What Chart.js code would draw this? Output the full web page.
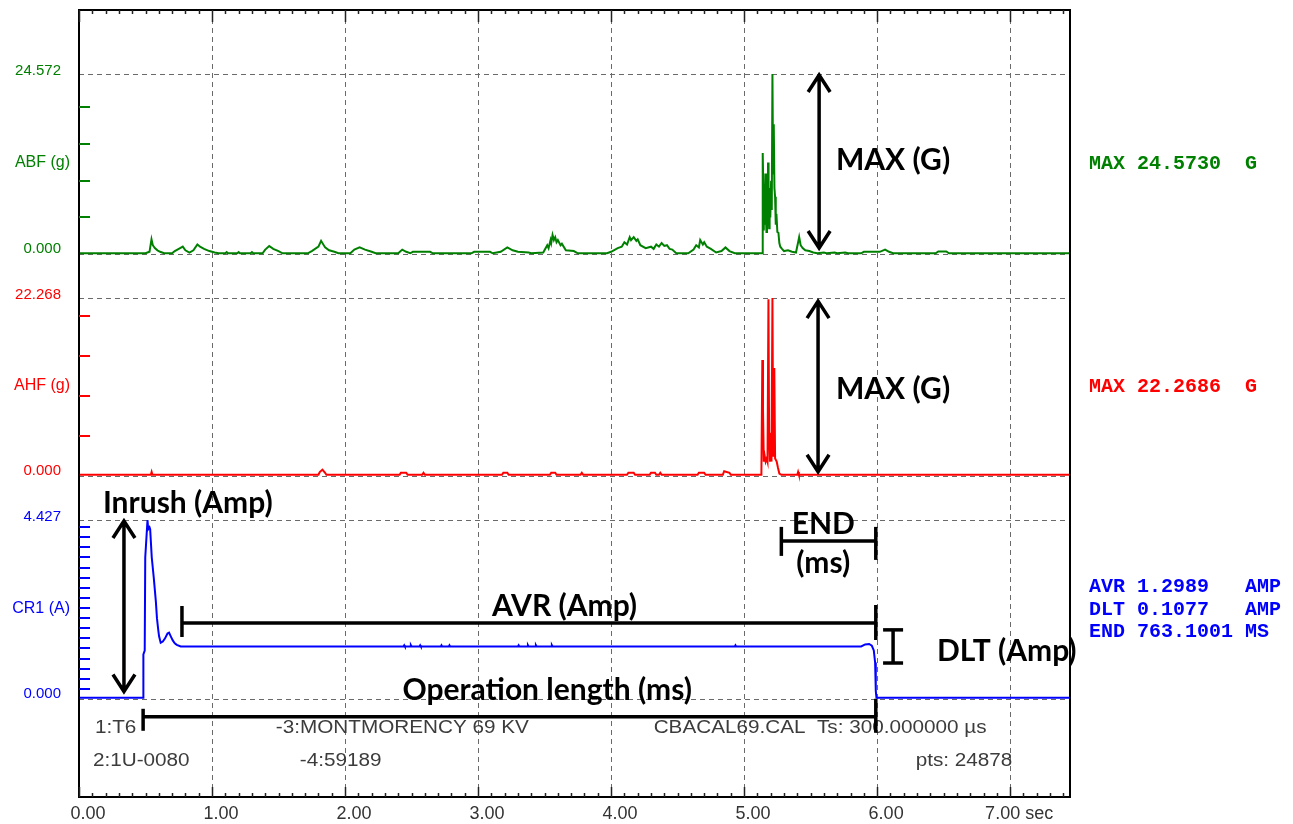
<!DOCTYPE html>
<html>
<head>
<meta charset="utf-8">
<title>Breaker timing record</title>
<script src="https://cdn.jsdelivr.net/npm/chart.js@4.4.1/dist/chart.umd.min.js"></script>
<style>
  html, body { margin: 0; padding: 0; background: #fff; }
  #wrap { width: 1293px; height: 824px; }
</style>
</head>
<body>
<div id="wrap"><canvas id="trace" width="1293" height="824"></canvas></div>
<script>
// ---- channel traces: [time (s), value] ----
const abfTrace = [
  [0, 0.1], [0.50, 0.1], [0.53, 0.3], [0.545, 2.0], [0.555, 1.2], [0.57, 0.8], [0.59, 0.5], [0.61, 0.3],
  [0.64, 0.1], [0.70, 0.1], [0.72, 0.4], [0.75, 0.7], [0.78, 1.0], [0.80, 0.5], [0.83, 0.2], [0.86, 0.5],
  [0.89, 1.3], [0.91, 1.0], [0.94, 0.7], [0.98, 0.4], [1.02, 0.2], [1.05, 0.1], [1.10, 0.1], [1.11, 0.25],
  [1.12, 0.1], [1.19, 0.1], [1.20, 0.25], [1.21, 0.1], [1.29, 0.1], [1.30, 0.25], [1.31, 0.1], [1.38, 0.1],
  [1.40, 0.6], [1.43, 1.1], [1.46, 0.7], [1.50, 0.4], [1.53, 0.1], [1.72, 0.1], [1.75, 0.4], [1.80, 1.0],
  [1.82, 1.8], [1.85, 0.9], [1.88, 0.5], [1.92, 0.3], [1.95, 0.1], [2.04, 0.1], [2.07, 0.6], [2.11, 0.9],
  [2.15, 0.6], [2.20, 0.3], [2.23, 0.1], [2.40, 0.1], [2.43, 0.6], [2.46, 0.3], [2.49, 0.1], [2.51, 0.3],
  [2.64, 0.3], [2.66, 0.1], [2.95, 0.1], [2.97, 0.3], [3.09, 0.3], [3.11, 0.1], [3.17, 0.3], [3.22, 0.9],
  [3.26, 0.5], [3.30, 0.3], [3.38, 0.2], [3.40, 0.1], [3.49, 0.2], [3.52, 1.2], [3.53, 0.8], [3.545, 1.9],
  [3.55, 1.5], [3.56, 2.6], [3.57, 1.9], [3.58, 2.3], [3.59, 1.6], [3.60, 1.9], [3.62, 1.2], [3.63, 1.4],
  [3.66, 0.5], [3.72, 0.4], [3.75, 0.1], [3.97, 0.1], [4.00, 0.3], [4.05, 0.8], [4.08, 1.0], [4.10, 1.6],
  [4.12, 1.3], [4.14, 2.3], [4.15, 1.9], [4.17, 2.3], [4.19, 1.8], [4.20, 2.0], [4.22, 1.2], [4.26, 0.8],
  [4.30, 1.0], [4.32, 0.7], [4.34, 1.3], [4.36, 1.0], [4.38, 1.5], [4.40, 1.1], [4.42, 1.2], [4.44, 0.7],
  [4.46, 0.6], [4.49, 0.1], [4.58, 0.1], [4.62, 0.6], [4.64, 1.2], [4.66, 0.9], [4.67, 1.9], [4.69, 1.3],
  [4.70, 1.6], [4.72, 1.0], [4.75, 0.7], [4.79, 0.2], [4.83, 0.4], [4.86, 0.9], [4.89, 0.4], [4.93, 0.1],
  [5.135, 0.1],
  [5.140, 13.8], [5.145, 8.3], [5.148, 3.2], [5.152, 9.5], [5.156, 4.0], [5.160, 11.0], [5.164, 5.2],
  [5.168, 3.0], [5.172, 8.0], [5.176, 4.5], [5.180, 12.5], [5.184, 6.0], [5.188, 3.5], [5.192, 9.0],
  [5.197, 5.0], [5.203, 10.0], [5.208, 6.0], [5.213, 24.573], [5.218, 11.0], [5.223, 17.7], [5.228, 9.0],
  [5.233, 7.8], [5.238, 4.0], [5.243, 5.5], [5.250, 3.0], [5.258, 2.9], [5.265, 1.5], [5.272, 1.0],
  [5.285, 0.7], [5.30, 0.4], [5.33, 0.5], [5.36, 0.3], [5.39, 0.2], [5.405, 1.5], [5.414, 2.3], [5.425, 1.2],
  [5.44, 0.8], [5.46, 0.5], [5.49, 0.4], [5.52, 0.2], [5.55, 0.1], [5.60, 0.2], [5.62, 0.1], [5.68, 0.2],
  [5.70, 0.1], [5.76, 0.2], [5.78, 0.1], [5.88, 0.1], [5.90, 0.3], [6.02, 0.3], [6.06, 0.6], [6.09, 0.3],
  [6.12, 0.1], [6.44, 0.1], [6.46, 0.35], [6.52, 0.35], [6.54, 0.1], [7.45, 0.1]
];

const ahfTrace = [
  [0, 0.15], [0.54, 0.15], [0.546, 0.5], [0.552, 0.15], [1.80, 0.15], [1.81, 0.5], [1.83, 0.8], [1.85, 0.4],
  [1.86, 0.15], [2.41, 0.15], [2.42, 0.4], [2.46, 0.4], [2.47, 0.15], [2.58, 0.15], [2.59, 0.4], [2.60, 0.15],
  [3.18, 0.15], [3.19, 0.4], [3.22, 0.4], [3.23, 0.15], [3.54, 0.15], [3.55, 0.4], [3.58, 0.4], [3.59, 0.15],
  [3.77, 0.15], [3.78, 0.4], [3.79, 0.15], [4.12, 0.15], [4.13, 0.4], [4.17, 0.4], [4.18, 0.15], [4.29, 0.15],
  [4.30, 0.4], [4.33, 0.4], [4.34, 0.15], [4.36, 0.15], [4.37, 0.4], [4.38, 0.15], [4.65, 0.15], [4.66, 0.4],
  [4.70, 0.4], [4.71, 0.15], [4.84, 0.15], [4.85, 0.6], [4.89, 0.4], [4.90, 0.15], [5.130, 0.15],
  [5.137, 14.5], [5.142, 8.3], [5.148, 1.8], [5.155, 2.5], [5.162, 1.8], [5.170, 2.2], [5.176, 1.8],
  [5.183, 22.1], [5.188, 5.4], [5.194, 1.8], [5.200, 2.5], [5.206, 1.8], [5.213, 22.27], [5.219, 2.4],
  [5.227, 13.5], [5.233, 2.2], [5.245, 1.8], [5.255, 1.0], [5.265, 0.3], [5.28, 0.15], [5.40, 0.15],
  [5.406, 0.5], [5.412, 0.15], [7.45, 0.15]
];

const cr1Trace = [
  [0, 0.03], [0.482, 0.03], [0.484, 1.1], [0.494, 1.2], [0.498, 3.5], [0.515, 4.427], [0.520, 4.2],
  [0.530, 4.25], [0.535, 4.2], [0.547, 3.5], [0.562, 3.0], [0.578, 2.4], [0.586, 2.0], [0.596, 1.7],
  [0.602, 1.55], [0.614, 1.39], [0.630, 1.42], [0.647, 1.5], [0.665, 1.62], [0.677, 1.64], [0.690, 1.55],
  [0.705, 1.45], [0.720, 1.38], [0.735, 1.34], [0.765, 1.30], [2.44, 1.30], [2.445, 1.33], [2.45, 1.30],
  [2.49, 1.30], [2.495, 1.33], [2.50, 1.30], [2.56, 1.30], [2.565, 1.33], [2.57, 1.30], [2.72, 1.30],
  [2.725, 1.33], [2.73, 1.30], [2.78, 1.30], [2.785, 1.33], [2.79, 1.30], [3.30, 1.30], [3.305, 1.33],
  [3.31, 1.30], [3.37, 1.30], [3.375, 1.33], [3.38, 1.30], [3.43, 1.30], [3.435, 1.33], [3.44, 1.30],
  [3.55, 1.30], [3.555, 1.33], [3.56, 1.30], [4.93, 1.30], [4.935, 1.33], [4.94, 1.30], [5.88, 1.30],
  [5.91, 1.35], [5.94, 1.36], [5.96, 1.32], [5.975, 1.2], [5.985, 0.9], [5.99, 0.2], [5.995, 0.03], [7.45, 0.03]
];

// ---- panels ----
const panelAxes = ['yAbf', 'yAhf', 'yCr1'];
const panelNames = ['ABF (g)', 'AHF (g)', 'CR1 (A)'];
const panelTops = [24.572, 22.268, 4.427];
const panelTickSteps = [5, 5, 0.25];
const panelColors = ['#008000', '#ff0000', '#0000ff'];
const panelReadouts = [
  ['MAX 24.5730  G'],
  ['MAX 22.2686  G'],
  ['AVR 1.2989   AMP', 'DLT 0.1077   AMP', 'END 763.1001 MS']
];

// ---- footer text (time position, text) ----
const footerRow1 = [[0.12, '1:T6'], [1.48, '-3:MONTMORENCY 69 KV'], [4.32, 'CBACAL69.CAL  Ts: 300.000000 µs']];
const footerRow2 = [[0.105, '2:1U-0080'], [1.66, '-4:59189'], [6.29, 'pts: 24878']];

// ---- layout: chart area and where each panel's 0 / top line sits ----
const AREA = { left: 79, top: 10, right: 1070, bottom: 797 };
const panelZeroPx = [254, 476, 699];
const panelTopPx = [74, 298, 520];

function bandRange(i) {
  const k = (panelZeroPx[i] - panelTopPx[i]) / panelTops[i];
  return {
    min: -(AREA.bottom - panelZeroPx[i]) / k,
    max: panelTops[i] + (panelTopPx[i] - AREA.top) / k
  };
}

const GRID = '#6a6a6a';
const MONO = 'bold 20px "Liberation Mono", monospace';
const SANS = '"Liberation Sans", Arial, sans-serif';
const NOTE = 'bold 30px Lato, "Open Sans", sans-serif';

function seg(ctx, x1, y1, x2, y2) {
  ctx.beginPath(); ctx.moveTo(x1, y1); ctx.lineTo(x2, y2); ctx.stroke();
}

function arrow(ctx, x, yTop, yBot) {
  ctx.beginPath();
  ctx.moveTo(x, yTop + 1); ctx.lineTo(x, yBot - 1);
  ctx.moveTo(x - 11, yTop + 18); ctx.lineTo(x, yTop + 1); ctx.lineTo(x + 11, yTop + 18);
  ctx.moveTo(x - 11, yBot - 18); ctx.lineTo(x, yBot - 1); ctx.lineTo(x + 11, yBot - 18);
  ctx.stroke();
}

function bracket(ctx, x1, x2, y, capL, capR) {
  seg(ctx, x1, y, x2, y);
  seg(ctx, x1, y + capL[0], x1, y + capL[1]);
  seg(ctx, x2, y + capR[0], x2, y + capR[1]);
}

// footer lettering is wide and squat, so stretch it sideways
function wideText(ctx, s, x, y) {
  ctx.save();
  ctx.translate(x, y);
  ctx.scale(1.15, 1);
  ctx.fillText(s, 0, 0);
  ctx.restore();
}

const overlay = {
  id: 'overlay',
  beforeDatasetsDraw(chart) {
    const { ctx, chartArea: a, scales } = chart;
    ctx.save();
    ctx.strokeStyle = GRID;
    ctx.lineWidth = 1;
    ctx.setLineDash([5, 4]);
    panelAxes.forEach((id, i) => {
      [0, panelTops[i]].forEach(v => {
        const y = Math.round(scales[id].getPixelForValue(v)) + 0.5;
        seg(ctx, a.left, y, a.right, y);
      });
    });
    ctx.restore();
  },
  afterDatasetsDraw(chart) {
    const { ctx, chartArea: a, scales } = chart;
    const xs = scales.x;
    const X = t => xs.getPixelForValue(t);
    const Y = (id, v) => scales[id].getPixelForValue(v);
    ctx.save();

    // frame
    ctx.strokeStyle = '#000';
    ctx.lineWidth = 2;
    ctx.strokeRect(a.left, a.top, a.right - a.left, a.bottom - a.top);

    // time ticks along top and bottom edges
    ctx.lineWidth = 1.5;
    ctx.strokeStyle = '#222';
    for (let i = 0; i <= 74; i++) {
      const x = Math.round(X(i / 10)) + 0.5;
      const major = i % 10 === 0;
      seg(ctx, x, a.top, x, a.top + (major ? 12 : 4));
      seg(ctx, x, a.bottom, x, a.bottom - (major ? 10 : 4));
    }

    // per-panel ticks, labels and readouts
    panelAxes.forEach((id, i) => {
      const col = panelColors[i];
      ctx.strokeStyle = col;
      ctx.lineWidth = 2;
      const n = Math.floor(panelTops[i] / panelTickSteps[i] + 1e-6);
      for (let k = 1; k <= n; k++) {
        const y = Math.round(Y(id, k * panelTickSteps[i]));
        seg(ctx, a.left, y, a.left + 11, y);
      }
      ctx.fillStyle = col;
      ctx.font = '15px ' + SANS;
      ctx.textAlign = 'right';
      ctx.textBaseline = 'alphabetic';
      ctx.fillText(panelTops[i].toFixed(3), a.left - 18, Y(id, panelTops[i]) + 1);
      ctx.fillText('0.000', a.left - 18, Y(id, 0) - 1);
      ctx.textBaseline = 'middle';
      ctx.font = '16px ' + SANS;
      ctx.fillText(panelNames[i], a.left - 9, Y(id, panelTops[i] / 2) - 1);

      ctx.font = MONO;
      ctx.textAlign = 'left';
      const rows = panelReadouts[i];
      rows.forEach((txt, r) => {
        const y = Y(id, panelTops[i] / 2) + (r - (rows.length - 1) / 2) * 22.5;
        ctx.fillText(txt, a.right + 19, y);
      });
    });

    // footer text
    ctx.fillStyle = '#3c3c3c';
    ctx.font = '18px ' + SANS;
    ctx.textAlign = 'left';
    ctx.textBaseline = 'middle';
    footerRow1.forEach(([t, s]) => wideText(ctx, s, X(t), Y('yCr1', -0.72)));
    footerRow2.forEach(([t, s]) => wideText(ctx, s, X(t), Y('yCr1', -1.53)));

    // annotations
    ctx.strokeStyle = '#000';
    ctx.fillStyle = '#000';
    ctx.lineWidth = 3.5;
    ctx.lineCap = 'butt';
    ctx.lineJoin = 'miter';
    arrow(ctx, X(5.564), Y('yAbf', 24.572), Y('yAbf', 0.68));
    arrow(ctx, X(5.556), Y('yAhf', 22.0), Y('yAhf', 0.4));
    arrow(ctx, X(0.338), Y('yCr1', 4.427), Y('yCr1', 0.16));

    bracket(ctx, X(0.774), X(5.99), Y('yCr1', 1.88), [-17, 14], [-18, 17]);
    bracket(ctx, X(0.482), X(5.99), Y('yCr1', -0.44), [-8, 14], [-18, 16]);
    bracket(ctx, X(5.28), X(5.99), Y('yCr1', 3.91), [-14, 15], [-14, 19]);

    // DLT I-beam
    const dx = X(6.12), d1 = Y('yCr1', 1.71), d2 = Y('yCr1', 0.89);
    seg(ctx, dx, d1, dx, d2);
    seg(ctx, dx - 10, d1, dx + 10, d1);
    seg(ctx, dx - 10, d2, dx + 10, d2);

    ctx.font = NOTE;
    ctx.textBaseline = 'middle';
    ctx.textAlign = 'left';
    ctx.fillText('MAX (G)', X(5.69), Y('yAbf', 12.8));
    ctx.fillText('MAX (G)', X(5.69), Y('yAhf', 10.9));
    ctx.fillText('Inrush (Amp)', X(0.18), Y('yCr1', 4.85));
    ctx.fillText('DLT (Amp)', X(6.45), Y('yCr1', 1.19));
    ctx.textAlign = 'center';
    ctx.fillText('END', X(5.595), Y('yCr1', 4.33));
    ctx.fillText('(ms)', X(5.595), Y('yCr1', 3.36));
    ctx.fillText('AVR (Amp)', X(3.65), Y('yCr1', 2.30));
    ctx.fillText('Operation length (ms)', X(3.52), Y('yCr1', 0.22));
    ctx.restore();
  }
};

function series(trace, axis, color) {
  return {
    data: trace.map(([t, v]) => ({ x: t, y: v })),
    yAxisID: axis,
    borderColor: color,
    borderWidth: 2,
    pointRadius: 0,
    tension: 0,
    fill: false
  };
}

const yScales = {};
panelAxes.forEach((id, i) => {
  yScales[id] = Object.assign({ type: 'linear', display: false }, bandRange(i));
});

new Chart(document.getElementById('trace'), {
  type: 'line',
  data: {
    datasets: [
      series(abfTrace, 'yAbf', panelColors[0]),
      series(ahfTrace, 'yAhf', panelColors[1]),
      series(cr1Trace, 'yCr1', panelColors[2])
    ]
  },
  options: {
    responsive: false,
    animation: false,
    devicePixelRatio: 1,
    layout: {
      padding: { left: AREA.left, top: AREA.top, right: 1293 - AREA.right, bottom: 0 }
    },
    plugins: { legend: { display: false }, tooltip: { enabled: false } },
    scales: Object.assign({
      x: {
        type: 'linear',
        min: 0,
        max: 7.45,
        afterFit(scale) { scale.height = 824 - AREA.bottom; },
        grid: { color: GRID, lineWidth: 1, drawTicks: false },
        border: { display: false, dash: [5, 4] },
        ticks: {
          stepSize: 1,
          includeBounds: false,
          maxRotation: 0,
          autoSkip: false,
          padding: 6,
          labelOffset: 9,
          color: '#333',
          font: { family: SANS, size: 18 },
          callback: v => v.toFixed(2) + (v === 7 ? ' sec' : '')
        }
      }
    }, yScales)
  },
  plugins: [overlay]
});
</script>
</body>
</html>
